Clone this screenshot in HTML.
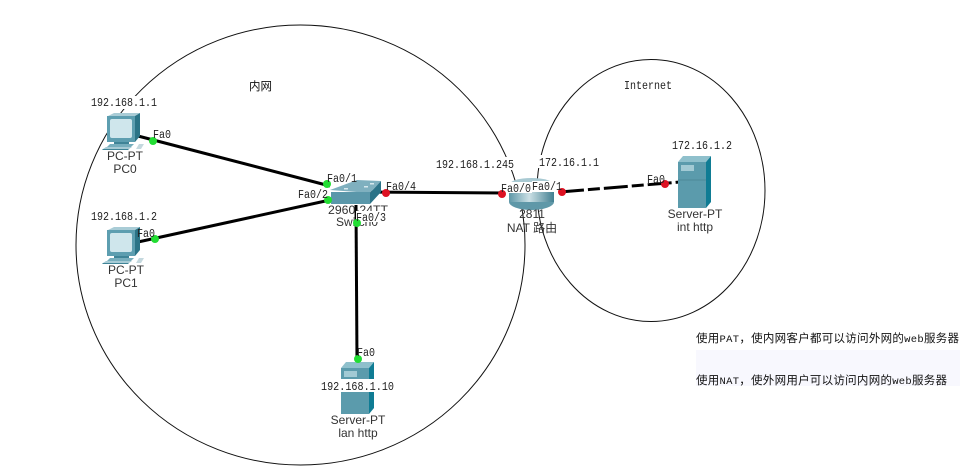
<!DOCTYPE html>
<html>
<head>
<meta charset="utf-8">
<style>
html,body{margin:0;padding:0;background:#fff;width:976px;height:472px;overflow:hidden}
svg{display:block}
.m{font-family:"Liberation Mono","Noto Sans CJK SC",monospace;font-size:11.5px;fill:#222}
.s{font-family:"Liberation Sans","Noto Sans CJK SC",sans-serif;font-size:12px;fill:#333;text-anchor:middle}
.c{font-family:"Noto Sans CJK SC","WenQuanYi Zen Hei",sans-serif;font-size:11.5px;fill:#111}
.c tspan{font-family:"Liberation Mono",monospace;font-size:10.5px}
.bg{fill:#fff}
</style>
</head>
<body>
<svg width="976" height="472" viewBox="0 0 976 472" xmlns="http://www.w3.org/2000/svg">
<defs>
<g id="pc">
  <polygon points="1,3 7,0 33,0 28,3" fill="#a9ccd6"/>
  <polygon points="28,3 33,0 33,23 28,29" fill="#2b7487"/>
  <rect x="0" y="3" width="28" height="26" fill="#5d9eb0"/>
  <rect x="3" y="6" width="22" height="19" rx="2" fill="#cfe6ec"/>
  <rect x="7" y="29" width="15" height="2" fill="#3f8497"/>
  <polygon points="3,31 27,31 24,34 0,34" fill="#77aebd"/>
  <polygon points="-1,34 25,34 22,36 -4,36" fill="#a7cbd5"/>
  <polygon points="-4,36 22,36 21,37 -5,37" fill="#3f8497"/>
  <path d="M29 36 l3 -5 h5 l-3 5z" fill="#c4d8de"/>
</g>
<g id="srv">
  <polygon points="0,6 5,0 33,0 28,6" fill="#8fc0cc"/>
  <polygon points="28,6 33,0 33,46 28,52" fill="#0f7c94"/>
  <rect x="0" y="6" width="28" height="46" fill="#5b9bac"/>
  <rect x="3" y="9" width="13" height="6" fill="#a2cad4"/>
  <line x1="0" y1="24" x2="28" y2="24" stroke="#4c8899" stroke-width="1"/>
</g>
<linearGradient id="r" x1="0" x2="1" y1="0" y2="0">
  <stop offset="0" stop-color="#5f98a8"/><stop offset=".45" stop-color="#cbe0e5"/><stop offset="1" stop-color="#427f91"/>
</linearGradient>
</defs>

<ellipse cx="300.500" cy="245" rx="224.500" ry="220" fill="none" stroke="#111" stroke-width="1"/>
<ellipse cx="651" cy="190.500" rx="114" ry="131" fill="none" stroke="#111" stroke-width="1"/>

<rect x="696" y="350" width="264" height="36" fill="#f8f8fe"/>

<g stroke="#000" stroke-width="3" fill="none">
  <line x1="138" y1="136" x2="330" y2="186"/>
  <line x1="138" y1="242" x2="330" y2="200"/>
  <line x1="356" y1="205" x2="357" y2="362"/>
  <line x1="370" y1="192" x2="505" y2="193"/>
  <line x1="560" y1="192" x2="680" y2="182" stroke-dasharray="24 4 12 4"/>
</g>

<use href="#pc" x="107" y="113"/>
<use href="#pc" x="107" y="227"/>
<use href="#srv" x="341" y="362"/>
<use href="#srv" x="678" y="156"/>

<!-- switch -->
<polygon points="330,190 357,180 381,181 370,193" fill="#7fb0bf"/>
<polygon points="370,193 381,181 381,192 370,204" fill="#2b7388"/>
<rect x="331" y="192" width="39" height="12" fill="#5a97aa"/>
<g fill="#d6e8ed"><rect x="344" y="188" width="4" height="1.500"/><rect x="364" y="186" width="4" height="1.500"/><rect x="370" y="183" width="4" height="1.500"/></g>

<!-- router -->
<ellipse cx="531.500" cy="202" rx="22.500" ry="8" fill="#5f98a8"/>
<rect x="509" y="185" width="45" height="17" fill="url(#r)"/>
<ellipse cx="531.500" cy="185" rx="22.500" ry="7" fill="#a8c9d2"/>

<!-- device labels -->
<text class="s" x="125" y="160">PC-PT</text><text class="s" x="125" y="173">PC0</text>
<text class="s" x="126" y="274">PC-PT</text><text class="s" x="126" y="287">PC1</text>
<text class="s" x="358" y="214" textLength="60" lengthAdjust="spacingAndGlyphs">2960-24TT</text><text class="s" x="357" y="226">Switch0</text>
<text class="s" x="532" y="218">2811</text><text class="s" x="532" y="232">NAT 路由</text>
<text class="s" x="695" y="218">Server-PT</text><text class="s" x="695" y="231">int http</text>
<text class="s" x="358" y="424">Server-PT</text><text class="s" x="358" y="437">lan http</text>

<!-- label backgrounds -->
<rect x="90" y="96" width="66" height="13" class="bg"/>
<rect x="320" y="379" width="74" height="13" class="bg"/>
<rect x="435" y="157" width="80" height="13" class="bg"/>
<rect x="538" y="155" width="60" height="13" class="bg"/>
<rect x="501" y="182" width="31" height="11" class="bg"/>
<rect x="532" y="181" width="30" height="11" class="bg"/>
<rect x="356" y="211" width="31" height="11" class="bg"/>

<!-- link lights -->
<g fill="#22dd33">
  <circle cx="153" cy="141" r="4"/><circle cx="155" cy="239" r="4"/>
  <circle cx="327" cy="184" r="4"/><circle cx="328" cy="200" r="4"/>
  <circle cx="357" cy="223" r="4"/><circle cx="358" cy="359" r="4"/>
</g>
<g fill="#dd1122">
  <circle cx="386" cy="193" r="4"/><circle cx="502" cy="194" r="4"/>
  <circle cx="562" cy="192" r="4"/><circle cx="665" cy="184" r="4"/>
</g>

<!-- address labels -->
<g lengthAdjust="spacingAndGlyphs">
<text class="m" x="91" y="106" textLength="66" lengthAdjust="spacingAndGlyphs">192.168.1.1</text>
<text class="m" x="91" y="220" textLength="66" lengthAdjust="spacingAndGlyphs">192.168.1.2</text>
<text class="m" x="321" y="390" textLength="73" lengthAdjust="spacingAndGlyphs">192.168.1.10</text>
<text class="m" x="436" y="168" textLength="78" lengthAdjust="spacingAndGlyphs">192.168.1.245</text>
<text class="m" x="539" y="166" textLength="60" lengthAdjust="spacingAndGlyphs">172.16.1.1</text>
<text class="m" x="672" y="149" textLength="60" lengthAdjust="spacingAndGlyphs">172.16.1.2</text>

<!-- port labels -->
<text class="m" x="153" y="138" textLength="18" lengthAdjust="spacingAndGlyphs">Fa0</text>
<text class="m" x="137" y="237" textLength="18" lengthAdjust="spacingAndGlyphs">Fa0</text>
<text class="m" x="327" y="182" textLength="30" lengthAdjust="spacingAndGlyphs">Fa0/1</text>
<text class="m" x="298" y="198" textLength="30" lengthAdjust="spacingAndGlyphs">Fa0/2</text>
<text class="m" x="356" y="221" textLength="30" lengthAdjust="spacingAndGlyphs">Fa0/3</text>
<text class="m" x="386" y="190" textLength="30" lengthAdjust="spacingAndGlyphs">Fa0/4</text>
<text class="m" x="501" y="192" textLength="30" lengthAdjust="spacingAndGlyphs">Fa0/0</text>
<text class="m" x="532" y="190" textLength="30" lengthAdjust="spacingAndGlyphs">Fa0/1</text>
<text class="m" x="647" y="183" textLength="18" lengthAdjust="spacingAndGlyphs">Fa0</text>
<text class="m" x="357" y="356" textLength="18" lengthAdjust="spacingAndGlyphs">Fa0</text>
</g>

<!-- titles -->
<text class="c" x="249" y="90">内网</text>
<text class="m" x="624" y="89" textLength="48" lengthAdjust="spacingAndGlyphs">Internet</text>
<text class="c" x="696" y="342" textLength="263">使用<tspan>PAT</tspan>，使内网客户都可以访问外网的<tspan>web</tspan>服务器</text>
<text class="c" x="696" y="384" textLength="251">使用<tspan>NAT</tspan>，使外网用户可以访问内网的<tspan>web</tspan>服务器</text>
</svg>
</body>
</html>
